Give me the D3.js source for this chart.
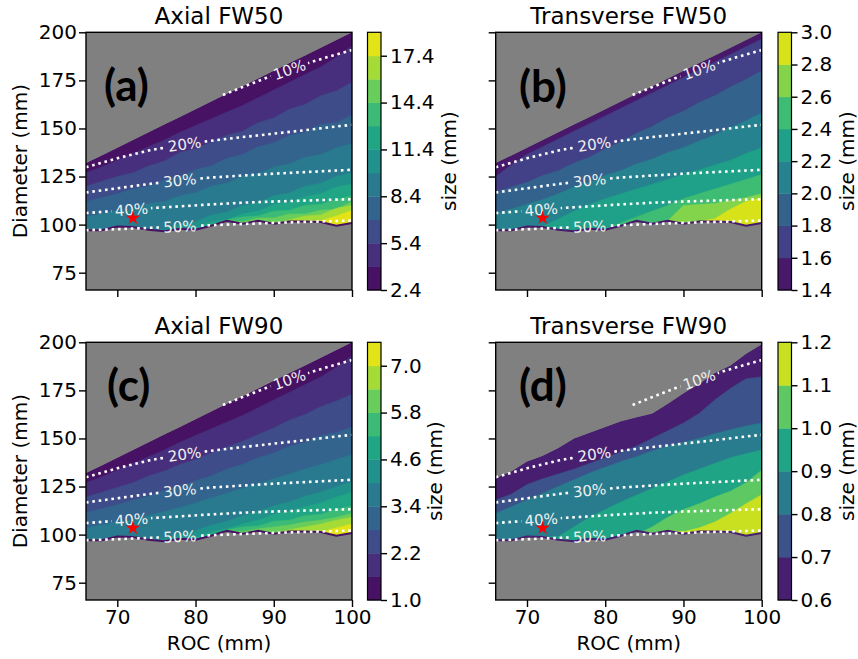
<!DOCTYPE html>
<html><head><meta charset="utf-8">
<script src="https://cdn.jsdelivr.net/npm/d3@7"></script>
<style>body{margin:0;background:#fff}</style>
</head><body>
<svg id="c" width="858" height="659" xmlns="http://www.w3.org/2000/svg"></svg>
<script>
// ---------------- DATA ----------------
const roc = [66,68,70,72,74,76,78,80,82,84,86,88,90,92,94,96,98,100];
const upperABC = [132,136,140,144,148,152,156,160,164,168,172,176,180,184,188,192,196,200];
const upperD = [129.5,133,138,141,145,150,153,156,159,161,163,168,173.5,178.5,184,188,194,199];
const lower = [97.1,97.1,99.0,98.8,97.3,96.5,97.8,97.3,99.4,102.0,100.4,102.0,100.4,101.6,101.6,101.3,99.4,100.8];

const levelsA = [2.4,3.9,5.4,6.9,8.4,9.9,11.4,12.9,14.4,15.9,17.4,18.9];
const ticksA = [2.4,5.4,8.4,11.4,14.4,17.4];
const levelsB = [1.4,1.6,1.8,2.0,2.2,2.4,2.6,2.8,3.0];
const ticksB = [1.4,1.6,1.8,2.0,2.2,2.4,2.6,2.8,3.0];
const levelsC = [1.0,1.6,2.2,2.8,3.4,4.0,4.6,5.2,5.8,6.4,7.0,7.6];
const ticksC = [1.0,2.2,3.4,4.6,5.8,7.0];
const levelsD = [0.6,0.7,0.8,0.9,1.0,1.1,1.2];
const ticksD = [0.6,0.7,0.8,0.9,1.0,1.1,1.2];

// diameter where the field crosses each level (null = below lower edge)
const N = null;
const bandsA = [
 [127,130,133.5,137,140.5,144,148,151.5,155,158.5,162,166,170,174,178,182,187,193],
 [120,122.5,125,127,130.5,133,137.5,139.5,143,146.5,148.5,153,155.5,160,162.5,167,169.5,174],
 [112,114,116,118.5,120,123.5,125,128.5,130.5,134.5,136.5,140.5,142.5,146.5,148,152,153,157],
 [104,105.5,107.5,108.5,111,112,115,116.5,120,121.5,125,126.5,130,131.5,135,136.5,140,142],
 [N,N,N,N,N,97.5,100.5,101.5,105,106.5,110,111.5,115,116.5,120,121.5,125,127],
 [N,N,N,N,N,N,N,98,101.5,102.5,105.5,107,110.5,111.5,114.5,116,119.5,121],
 [N,N,N,N,N,N,N,N,N,102.5,104,104.5,107,107.5,110,110.5,113,115],
 [N,N,N,N,N,N,N,N,N,N,101.5,103.5,103.5,105.5,105.5,107.5,108,112],
 [N,N,N,N,N,N,N,N,N,N,N,N,N,102.5,104.5,105,108.5,110],
 [N,N,N,N,N,N,N,N,N,N,N,N,N,N,N,102,104.5,107.5]
];
const bandsB = [
 [125,131,136.5,140.5,144.5,148.5,152.5,156.5,160.5,164.5,168.5,172.5,176.5,180.5,184.5,188.5,192.5,196.5],
 [117,119.5,122,125.5,128,132,135,139.5,143,147.5,151,155.5,159,163.5,167,171.5,175.5,180],
 [106,108,110.5,113,116,119.5,122,125.5,128,131.5,134,137.5,140,143.5,146.5,150.5,154,158],
 [N,N,N,99,103,107,110.5,113.5,116,118.5,121,123.5,126,128.5,131,133.5,137,140],
 [N,N,N,N,N,N,N,N,101,104,107,110,113.5,116,118.5,121,123.5,126],
 [N,N,N,N,N,N,N,N,N,N,N,102,110,110.5,111,112.5,114,116],
 [N,N,N,N,N,N,N,N,N,N,N,N,N,N,103,108,112,114]
];
const bandsC = [
 [127,130,133.5,137,140.5,144,148,151.5,155,158.5,162,166,170,174,178,182,187,193],
 [119.5,122,124.5,127,130.5,133,136.5,139,142.5,145.5,148.5,152,155.5,159.5,162.5,166.5,169.5,173],
 [111.5,113.5,115.5,118,120,123,125,128,130.5,134,136.5,140,142.5,146,148,151.5,153,156],
 [103.5,105,106.5,108,110,112,114,116.5,119,121.5,124,126.5,129,131.5,134,136.5,139,141.5],
 [N,N,N,N,N,98,100.5,102,105,107,110,112,115,117,120,122,125,127.5],
 [N,N,N,N,N,N,N,98.5,101.5,103,105.5,107.5,110.5,112,114.5,116.5,119.5,122],
 [N,N,N,N,N,N,N,N,N,102.5,104,104.5,107,107.5,110,110.5,113,115],
 [N,N,N,N,N,N,N,N,N,N,101.5,103,104,105,106.5,107.5,109,111],
 [N,N,N,N,N,N,N,N,N,N,N,N,N,102.5,104,105.5,107.5,109],
 [N,N,N,N,N,N,N,N,N,N,N,N,N,N,N,N,103.5,105.5]
];
const bandsD = [
 [118,121,126,129,131.5,134,137,140,143,146,150,154,158,163,170,176,181,182],
 [111,114.5,118,121.5,125,128.5,132,135,138,140.5,143.5,146,148,150,152.5,154.5,156.5,158],
 [N,N,N,N,99,104,109,113,117,120.5,124,127.5,131,134,137,140,142,144],
 [N,N,N,N,N,N,N,N,N,100,104,109,113,116,119.5,122.5,127,133.5],
 [N,N,N,N,N,N,N,N,N,N,N,N,101.5,103.5,106.5,111,116,120.7]
];

const pctLabels = ["10%","20%","30%","40%","50%"];
const pct10 = [[83.5,167.4],[86,171.5],[89,176.2],[92,180.6],[95,184.8],[98,188.5],[100,190.8]];
const pct20 = [[66,129.8],[70,134.5],[74,138.5],[78,141.5],[82,143.6],[86,145.5],[90,147.3],[94,149.1],[98,151],[100,151.9]];
const pct30 = [[66,116.7],[70,118.9],[74,121.1],[78,123],[82,124.5],[86,125.5],[90,126.5],[94,127.3],[98,128.1],[100,128.5]];
const pct40 = [[66,106],[70,107.2],[74,108.5],[78,109.5],[82,110.5],[86,111.4],[90,112],[94,112.5],[98,113],[100,113.2]];
const pct50 = [[66,97.1],[70,97.6],[74,98.3],[78,99],[82,99.7],[86,100.3],[90,100.9],[94,101.4],[98,101.9],[100,102.1]];
const pctLines = [pct10,pct20,pct30,pct40,pct50];
const pctLabelRoc = [92,78.6,78,71.8,78];
const starPoint = [72,103.4];

const xTicks = [70,80,90,100];
const yTicks = [75,100,125,150,175,200];
const xDomain = [66,100];
const yDomain = [66,200];

// ---------------- LAYOUT ----------------
const FONT = '"DejaVu Sans", sans-serif';
const panels = [
 {id:"a", title:"Axial FW50", tag:"(a)", x0:86, x1:352, y0:32.3, y1:290, cbx:367.5, cbLab:456, tagX:104, tagY:101,
  levels:levelsA, ticks:ticksA, bands:bandsA, upper:upperABC, showX:false, showY:true},
 {id:"b", title:"Transverse FW50", tag:"(b)", x0:495.7, x1:761.7, y0:32.3, y1:290, cbx:778, cbLab:853.5, tagX:519, tagY:102,
  levels:levelsB, ticks:ticksB, bands:bandsB, upper:upperABC, showX:false, showY:false},
 {id:"c", title:"Axial FW90", tag:"(c)", x0:86, x1:352, y0:342.3, y1:600, cbx:367.5, cbLab:441.5, tagX:107, tagY:401,
  levels:levelsC, ticks:ticksC, bands:bandsC, upper:upperABC, showX:true, showY:true},
 {id:"d", title:"Transverse FW90", tag:"(d)", x0:495.7, x1:761.7, y0:342.3, y1:600, cbx:778, cbLab:853.5, tagX:519, tagY:401,
  levels:levelsD, ticks:ticksD, bands:bandsD, upper:upperD, showX:true, showY:false}
];

const svg = d3.select("#c");
const defs = svg.append("defs");

function dAt(line, r){
  for(let i=0;i<line.length-1;i++){
    const [r0,d0]=line[i],[r1,d1]=line[i+1];
    if(r>=r0 && r<=r1) return d0+(d1-d0)*(r-r0)/(r1-r0);
  }
  return line[line.length-1][1];
}

function drawPanel(p){
  const x = d3.scaleLinear().domain(xDomain).range([p.x0,p.x1]);
  const y = d3.scaleLinear().domain(yDomain).range([p.y1,p.y0]);
  const n = p.levels.length-1;
  const color = i => d3.interpolateViridis((i+0.5)/n);
  const g = svg.append("g");

  g.append("rect").attr("x",p.x0).attr("y",p.y0).attr("width",p.x1-p.x0).attr("height",p.y1-p.y0).attr("fill","#808080");

  const region = d3.area().x((d,i)=>x(roc[i])).y0((d,i)=>y(lower[i])).y1((d,i)=>y(p.upper[i]));
  defs.append("clipPath").attr("id","reg-"+p.id).append("path").attr("d",region(roc));
  defs.append("clipPath").attr("id","plot-"+p.id).append("rect")
    .attr("x",p.x0).attr("y",p.y0).attr("width",p.x1-p.x0).attr("height",p.y1-p.y0);

  const gd = g.append("g").attr("clip-path",`url(#reg-${p.id})`);
  gd.append("path").attr("d",region(roc)).attr("fill",color(0));
  p.bands.forEach((curve,k)=>{
    const a = d3.area().x((d,i)=>x(roc[i])).y0((d,i)=>y(lower[i]) + 2)
      .y1((d,i)=>y(curve[i]==null?lower[i]:curve[i]));
    gd.append("path").attr("d",a(roc)).attr("fill",color(k+1)).attr("stroke",color(k+1)).attr("stroke-width",0.6);
  });
  g.append("path").attr("d",d3.line().x((d,i)=>x(roc[i])).y((d,i)=>y(lower[i]))(roc))
    .attr("fill","none").attr("stroke",color(0)).attr("stroke-width",2).attr("clip-path",`url(#plot-${p.id})`);

  // percentage contour lines with inline labels
  const gl = g.append("g").attr("clip-path",`url(#plot-${p.id})`);
  const mask = defs.append("mask").attr("id","mask-"+p.id).attr("maskUnits","userSpaceOnUse")
    .attr("x",0).attr("y",0).attr("width",858).attr("height",659);
  mask.append("rect").attr("x",0).attr("y",0).attr("width",858).attr("height",659).attr("fill","#fff");
  const lineGen = d3.line().x(d=>x(d[0])).y(d=>y(d[1]));
  const gt = g.append("g");
  pctLines.forEach((line,j)=>{
    const r = pctLabelRoc[j];
    const cx = x(r), cy = y(dAt(line,r));
    const ax = x(r-1.5), ay = y(dAt(line,Math.max(line[0][0],r-1.5)));
    const bx = x(r+1.5), by = y(dAt(line,Math.min(100,r+1.5)));
    const ang = Math.atan2(by-ay,bx-ax)*180/Math.PI;
    const t = gt.append("text").attr("transform",`translate(${cx},${cy}) rotate(${ang})`)
      .attr("text-anchor","middle").attr("dy","0.36em").attr("font-family",FONT).attr("font-size",15)
      .attr("fill","#f0f0f0").text(pctLabels[j]);
    const w = t.node().getComputedTextLength()+6;
    mask.append("rect").attr("transform",`translate(${cx},${cy}) rotate(${ang})`)
      .attr("x",-w/2).attr("y",-9).attr("width",w).attr("height",18).attr("fill","#000");
  });
  const gm = gl.append("g").attr("mask",`url(#mask-${p.id})`);
  pctLines.forEach(line=>{
    gm.append("path").attr("d",lineGen(line)).attr("fill","none").attr("stroke","#fff")
      .attr("stroke-width",2.6).attr("stroke-dasharray","2.6 3.8");
  });

  // star
  g.append("path").attr("d",d3.symbol(d3.symbolStar,60)())
    .attr("transform",`translate(${x(starPoint[0])},${y(starPoint[1])})`).attr("fill","#ff0000");

  // axes
  const xa = d3.axisBottom(x).tickValues(xTicks).tickSize(7).tickPadding(3).tickSizeOuter(0);
  if(!p.showX) xa.tickFormat("");
  const gx = g.append("g").attr("transform",`translate(0,${p.y1})`).call(xa);
  const ya = d3.axisLeft(y).tickValues(yTicks).tickSize(7).tickPadding(2).tickSizeOuter(0);
  if(!p.showY) ya.tickFormat("");
  const gy = g.append("g").attr("transform",`translate(${p.x0},0)`).call(ya);
  [gx,gy].forEach(a=>{
    a.select(".domain").remove();
    a.selectAll("line").attr("stroke","#000").attr("stroke-width",1.4);
    a.selectAll("text").attr("font-family",FONT).attr("font-size",20).attr("fill","#000");
  });
  g.append("rect").attr("x",p.x0).attr("y",p.y0).attr("width",p.x1-p.x0).attr("height",p.y1-p.y0)
    .attr("fill","none").attr("stroke","#000").attr("stroke-width",1.4);

  // colorbar
  const cbW = 13.5;
  const yc = d3.scaleLinear().domain([p.levels[0],p.levels[n]]).range([p.y1,p.y0]);
  for(let i=0;i<n;i++){
    g.append("rect").attr("x",p.cbx).attr("y",yc(p.levels[i+1])).attr("width",cbW)
      .attr("height",yc(p.levels[i])-yc(p.levels[i+1])+0.4).attr("fill",color(i));
  }
  g.append("rect").attr("x",p.cbx).attr("y",p.y0).attr("width",cbW).attr("height",p.y1-p.y0)
    .attr("fill","none").attr("stroke","#000").attr("stroke-width",1.2);
  const ca = d3.axisRight(yc).tickValues(p.ticks).tickFormat(d3.format(".1f")).tickSize(6).tickPadding(3).tickSizeOuter(0);
  const gc = g.append("g").attr("transform",`translate(${p.cbx+cbW},0)`).call(ca);
  gc.select(".domain").remove();
  gc.selectAll("line").attr("stroke","#000").attr("stroke-width",1.4);
  gc.selectAll("text").attr("font-family",FONT).attr("font-size",20).attr("fill","#000");
  g.append("text").attr("transform",`translate(${p.cbLab},${(p.y0+p.y1)/2}) rotate(-90)`)
    .attr("text-anchor","middle").attr("font-family",FONT).attr("font-size",20).text("size (mm)");

  // titles and tags
  g.append("text").attr("x",(p.x0+p.x1)/2).attr("y",p.y0-8.5).attr("text-anchor","middle")
    .attr("font-family",FONT).attr("font-size",23).text(p.title);
  g.append("text").attr("x",p.tagX).attr("y",p.tagY).attr("font-family","Lato, sans-serif")
    .attr("font-weight","bold").attr("font-size",44).attr("fill","#000").text(p.tag);
  if(p.showY){
    g.append("text").attr("transform",`translate(27,${(p.y0+p.y1)/2}) rotate(-90)`)
      .attr("text-anchor","middle").attr("font-family",FONT).attr("font-size",20).text("Diameter (mm)");
  }
  if(p.showX){
    g.append("text").attr("x",(p.x0+p.x1)/2).attr("y",650).attr("text-anchor","middle")
      .attr("font-family",FONT).attr("font-size",20).text("ROC (mm)");
  }
}
panels.forEach(drawPanel);
</script>
</body></html>
